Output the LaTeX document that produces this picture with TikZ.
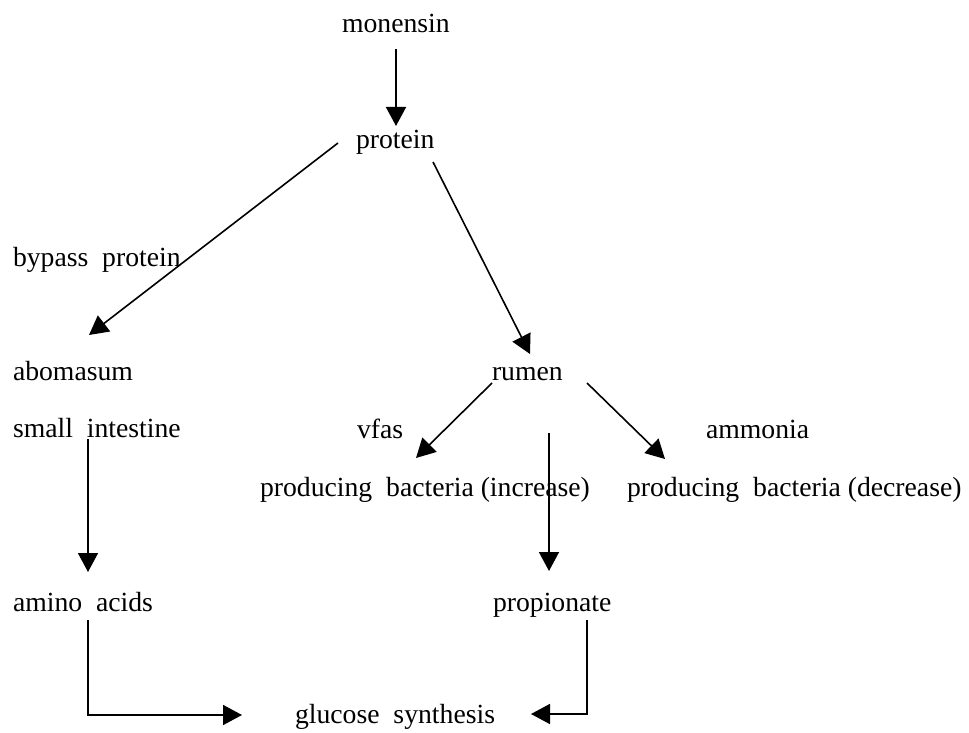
\documentclass[tikz,border=0pt]{standalone}
\usepackage{fontspec}
\setmainfont{Liberation Serif}
\usetikzlibrary{arrows.meta}
\tikzset{
  lbl/.style={anchor=base west, inner sep=0pt, outer sep=0pt, font=\fontsize{27.7}{33}\selectfont},
  arr/.style={line width=1.6pt, -{Triangle[length=19pt,width=20pt]}},
  ln/.style={line width=1.6pt}
}
\begin{document}
\begin{tikzpicture}[x=1pt,y=-1pt]
\useasboundingbox[fill=white] (0,0) rectangle (969,733);
\node[lbl] (monensin) at (342,33) {monensin};
\node[lbl] (protein) at (356,149) {protein};
\node[lbl] (bypass) at (13,266) {bypass\ \ protein};
\node[lbl] (abomasum) at (13,380) {abomasum};
\node[lbl] (rumen) at (492,380) {rumen};
\node[lbl] (small) at (13,437) {small\ \ intestine};
\node[lbl] (vfas) at (357,438) {vfas};
\node[lbl] (ammonia) at (706,438) {ammonia};
\node[lbl] (inc) at (260,496) {producing\ \ bacteria (increase)};
\node[lbl] (dec) at (627,496) {producing\ \ bacteria (decrease)};
\node[lbl] (amino) at (13,611) {amino\ \ acids};
\node[lbl] (propionate) at (493,611) {propionate};
\node[lbl] (glucose) at (295,723) {glucose\ \ synthesis};
\coordinate (vtop) at (549,433);

\draw[arr] ([shift={(54,16)}]monensin.base west) -- ([shift={(40,-23)}]protein.base west);
\draw[arr] ([shift={(-18,-6)}]protein.base west) -- ([shift={(76,-45)}]abomasum.base west);
\draw[arr] ([shift={(77,13)}]protein.base west) -- ([shift={(38,-26)}]rumen.base west);
\draw[arr] ([shift={(0,3)}]rumen.base west) -- ([shift={(156,-38)}]inc.base west);
\draw[arr] ([shift={(95,3)}]rumen.base west) -- ([shift={(38,-37)}]dec.base west);
\draw[arr] (vtop) -- ([shift={(56,-40)}]propionate.base west);
\draw[arr] ([shift={(75,2)}]small.base west) -- ([shift={(75,-39)}]amino.base west);
\draw[arr] ([shift={(75,9)}]amino.base west) |- ([shift={(-53,-8)}]glucose.base west);
\draw[arr] ([shift={(94,9)}]propionate.base west) |- ([shift={(236,-9)}]glucose.base west);
\end{tikzpicture}
\end{document}
